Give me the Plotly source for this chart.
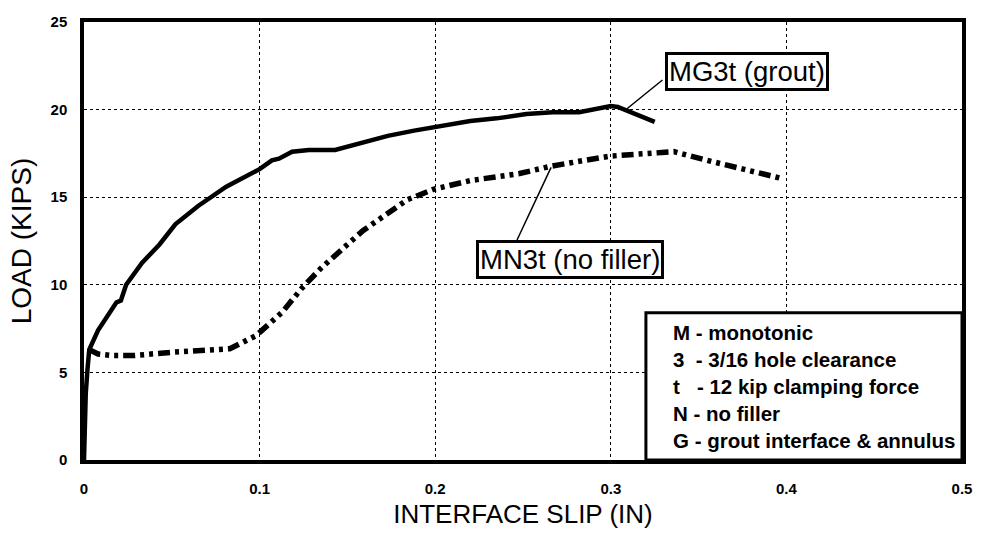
import plotly.graph_objects as go

# ---- data ----
mg3t_x = [0.0, 0.0005, 0.001, 0.002, 0.003, 0.008, 0.0185, 0.021, 0.024, 0.033, 0.043,
          0.052, 0.065, 0.081, 0.100, 0.107, 0.111, 0.1185, 0.128, 0.143, 0.154,
          0.161, 0.173, 0.188, 0.201, 0.220, 0.235, 0.252, 0.267, 0.282, 0.300,
          0.304, 0.325]
mg3t_y = [0.0, 2.0, 3.8, 5.2, 6.3, 7.4, 9.0, 9.1, 10.0, 11.25, 12.3,
          13.45, 14.5, 15.6, 16.6, 17.1, 17.2, 17.6, 17.7, 17.7, 18.0,
          18.2, 18.5, 18.8, 19.0, 19.35, 19.5, 19.75, 19.85, 19.85, 20.2,
          20.15, 19.3]

mn3t_x = [0.003, 0.008, 0.0167, 0.028, 0.050, 0.0685, 0.083, 0.098, 0.113, 0.124,
          0.135, 0.150, 0.159, 0.169, 0.184, 0.199, 0.220, 0.248, 0.265, 0.282,
          0.300, 0.329, 0.336, 0.355, 0.396]
mn3t_y = [6.3, 6.05, 5.96, 5.96, 6.15, 6.25, 6.35, 7.1, 8.45, 9.8,
          10.95, 12.3, 13.1, 13.8, 14.85, 15.45, 15.95, 16.35, 16.75, 17.05,
          17.35, 17.55, 17.6, 17.1, 16.1]

x_ticks = [0, 0.1, 0.2, 0.3, 0.4, 0.5]
x_ticktext = ["0", "0.1", "0.2", "0.3", "0.4", "0.5"]
y_ticks = [0, 5, 10, 15, 20, 25]
y_ticktext = ["0", "5", "10", "15", "20", "25"]

key_lines = [
    "M - monotonic",
    "3  - 3/16 hole clearance",
    "t   - 12 kip clamping force",
    "N - no filler",
    "G - grout interface & annulus",
]

FONT = "Liberation Sans, Arial, Helvetica, sans-serif"

fig = go.Figure()
fig.add_trace(go.Scatter(x=mg3t_x, y=mg3t_y, mode="lines", name="MG3t (grout)",
                         line=dict(color="black", width=4.5), showlegend=False))
fig.add_trace(go.Scatter(x=mn3t_x, y=mn3t_y, mode="lines", name="MN3t (no filler)",
                         line=dict(color="black", width=5.5,
                                   dash="12px,5px,4px,5px,4px,5px"),
                         showlegend=False))

# key box
fig.add_shape(type="rect", xref="x", yref="y", x0=0.32, x1=0.5, y0=0, y1=8.4,
              line=dict(color="black", width=3), fillcolor="white", layer="above")
key_y = [7.25, 5.76, 4.22, 2.68, 1.14]
for txt, yy in zip(key_lines, key_y):
    fig.add_annotation(x=0.334, y=yy, xref="x", yref="y", text=txt, showarrow=False,
                       xanchor="left", yanchor="middle",
                       font=dict(family=FONT, size=20.5, color="black", weight="bold"))

# leader lines
fig.add_shape(type="line", xref="x", yref="y", x0=0.308, y0=19.95, x1=0.3294, y1=21.69,
              line=dict(color="black", width=1.5))
fig.add_shape(type="line", xref="x", yref="y", x0=0.266, y0=16.7, x1=0.2466, y1=12.56,
              line=dict(color="black", width=1.5))

fig.add_annotation(x=0.3778, y=22.15, xref="x", yref="y", text="MG3t (grout)",
                   showarrow=False, bgcolor="white", bordercolor="black", borderwidth=3,
                   borderpad=1, font=dict(family=FONT, size=27.5, color="black"))
fig.add_annotation(x=0.2765, y=11.47, xref="x", yref="y", text="MN3t (no filler)",
                   showarrow=False, bgcolor="white", bordercolor="black", borderwidth=3,
                   borderpad=1, font=dict(family=FONT, size=27.5, color="black"))

fig.update_layout(
    width=981, height=536,
    margin=dict(l=84, r=9, t=22, b=76),
    paper_bgcolor="white", plot_bgcolor="white",
    font=dict(family=FONT, color="black"),
)
fig.update_xaxes(range=[0, 0.5], tickvals=x_ticks, ticktext=x_ticktext,
                 showgrid=True, gridcolor="black", gridwidth=1, griddash="dot",
                 zeroline=False, showline=True, mirror=True, linecolor="black", linewidth=3.5,
                 ticks="", ticklabelstandoff=12,
                 tickfont=dict(family=FONT, size=15, color="black", weight="bold"),
                 title=dict(text="INTERFACE SLIP (IN)", standoff=10,
                            font=dict(family=FONT, size=26, color="black")))
fig.update_yaxes(range=[0, 25], tickvals=y_ticks, ticktext=y_ticktext,
                 showgrid=True, gridcolor="black", gridwidth=1, griddash="dot",
                 zeroline=False, showline=True, mirror=True, linecolor="black", linewidth=3.5,
                 ticks="", ticklabelstandoff=10,
                 tickfont=dict(family=FONT, size=15, color="black", weight="bold"),
                 title=dict(text="LOAD (KIPS)", standoff=12,
                            font=dict(family=FONT, size=28, color="black")))

fig.write_html("out.html")
